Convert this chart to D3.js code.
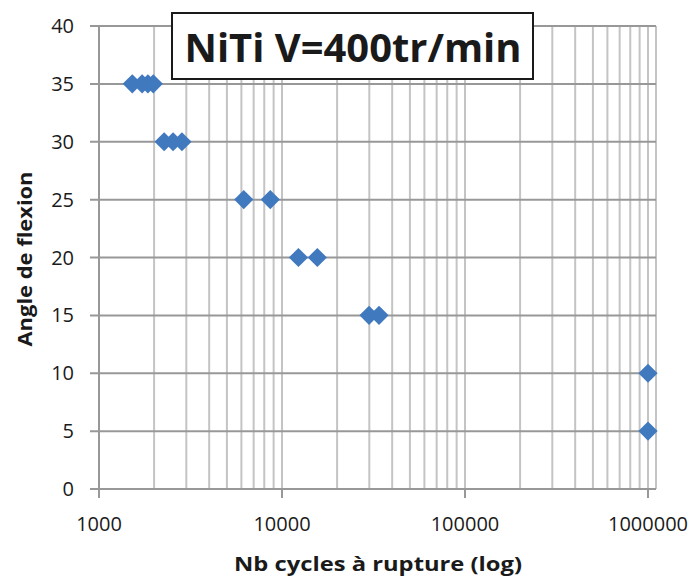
<!DOCTYPE html>
<html>
<head>
<meta charset="utf-8">
<script src="https://cdn.jsdelivr.net/npm/d3@7"></script>
<style>
  body { margin: 0; background: #fff; }
  text { font-family: "Open Sans", "DejaVu Sans", sans-serif; fill: #1a1a1a; }
</style>
</head>
<body>
<div id="container"></div>
<script>
// donnees
var cycles = [1520, 1720, 1850, 1980, 2270, 2540, 2840, 6180, 8630, 12300, 15600, 29900, 33900, 1000000, 1000000];
var angles = [35, 35, 35, 35, 30, 30, 30, 25, 25, 20, 20, 15, 15, 10, 5];
var xTicks = [1000, 10000, 100000, 1000000];
var yTicks = [0, 5, 10, 15, 20, 25, 30, 35, 40];

var w = 698, h = 578;
var plot = { left: 99, right: 656, top: 26, bottom: 489 };

var svg = d3.select("#container").append("svg")
    .attr("width", w)
    .attr("height", h);

var x = d3.scaleLog().domain([1000, 1000000]).range([plot.left, 648]);
var y = d3.scaleLinear().domain([0, 40]).range([plot.bottom, plot.top]);

// lignes de grille verticales (log)
var minor = [];
[1000, 10000, 100000].forEach(function (dec) {
    for (var k = 2; k <= 9; k++) minor.push(dec * k);
});
minor = minor.concat([10000, 100000, 1000000]);

svg.append("g")
    .selectAll("line")
    .data(minor)
    .enter()
    .append("line")
    .attr("x1", function (d) { return x(d); })
    .attr("x2", function (d) { return x(d); })
    .attr("y1", plot.top)
    .attr("y2", plot.bottom)
    .attr("stroke", "#c4c4c4")
    .attr("stroke-width", 2);

// bord droit
svg.append("line")
    .attr("x1", plot.right).attr("x2", plot.right)
    .attr("y1", plot.top).attr("y2", plot.bottom)
    .attr("stroke", "#c4c4c4")
    .attr("stroke-width", 2);

// lignes horizontales
svg.append("g")
    .selectAll("line")
    .data(yTicks)
    .enter()
    .append("line")
    .attr("x1", plot.left - 9)
    .attr("x2", plot.right)
    .attr("y1", function (d) { return y(d); })
    .attr("y2", function (d) { return y(d); })
    .attr("stroke", "#989898")
    .attr("stroke-width", 2);

// axe y
svg.append("line")
    .attr("x1", plot.left).attr("x2", plot.left)
    .attr("y1", plot.top).attr("y2", plot.bottom + 1)
    .attr("stroke", "#989898")
    .attr("stroke-width", 2);

// graduations axe x
svg.append("g")
    .selectAll("line")
    .data(xTicks)
    .enter()
    .append("line")
    .attr("x1", function (d) { return x(d); })
    .attr("x2", function (d) { return x(d); })
    .attr("y1", plot.bottom)
    .attr("y2", plot.bottom + 9)
    .attr("stroke", "#989898")
    .attr("stroke-width", 2);

// etiquettes
svg.append("g")
    .selectAll("text")
    .data(yTicks)
    .enter()
    .append("text")
    .attr("x", 74)
    .attr("y", function (d) { return y(d) + 7; })
    .attr("text-anchor", "end")
    .style("font-size", "20px")
    .text(function (d) { return d; });

svg.append("g")
    .selectAll("text")
    .data(xTicks)
    .enter()
    .append("text")
    .attr("x", function (d) { return x(d); })
    .attr("y", 531)
    .attr("text-anchor", "middle")
    .style("font-size", "20px")
    .text(function (d) { return d; });

svg.append("text")
    .attr("x", 378)
    .attr("y", 571)
    .attr("text-anchor", "middle")
    .style("font-size", "19px")
    .style("font-weight", "bold")
    .attr("textLength", 288)
    .attr("lengthAdjust", "spacingAndGlyphs")
    .text("Nb cycles à rupture (log)");

svg.append("text")
    .attr("transform", "translate(32,259) rotate(-90)")
    .attr("text-anchor", "middle")
    .style("font-size", "19px")
    .style("font-weight", "bold")
    .attr("textLength", 175)
    .attr("lengthAdjust", "spacingAndGlyphs")
    .text("Angle de flexion");

// points
var points = cycles.map(function (c, i) { return { c: c, a: angles[i] }; });
var diamond = d3.symbol().type(d3.symbolSquare).size(185);

svg.append("g")
    .selectAll("path")
    .data(points)
    .enter()
    .append("path")
    .attr("d", diamond)
    .attr("transform", function (d) {
        return "translate(" + x(d.c) + "," + y(d.a) + ") rotate(45)";
    })
    .attr("fill", "#4179bf");

// titre
svg.append("rect")
    .attr("x", 172)
    .attr("y", 13)
    .attr("width", 361)
    .attr("height", 66)
    .attr("fill", "#fff")
    .attr("stroke", "#1a1a1a")
    .attr("stroke-width", 2);

svg.append("text")
    .attr("x", 353)
    .attr("y", 62)
    .attr("text-anchor", "middle")
    .style("font-size", "40px")
    .style("font-weight", "bold")
    .attr("textLength", 337)
    .attr("lengthAdjust", "spacingAndGlyphs")
    .text("NiTi V=400tr/min");
</script>
</body>
</html>
